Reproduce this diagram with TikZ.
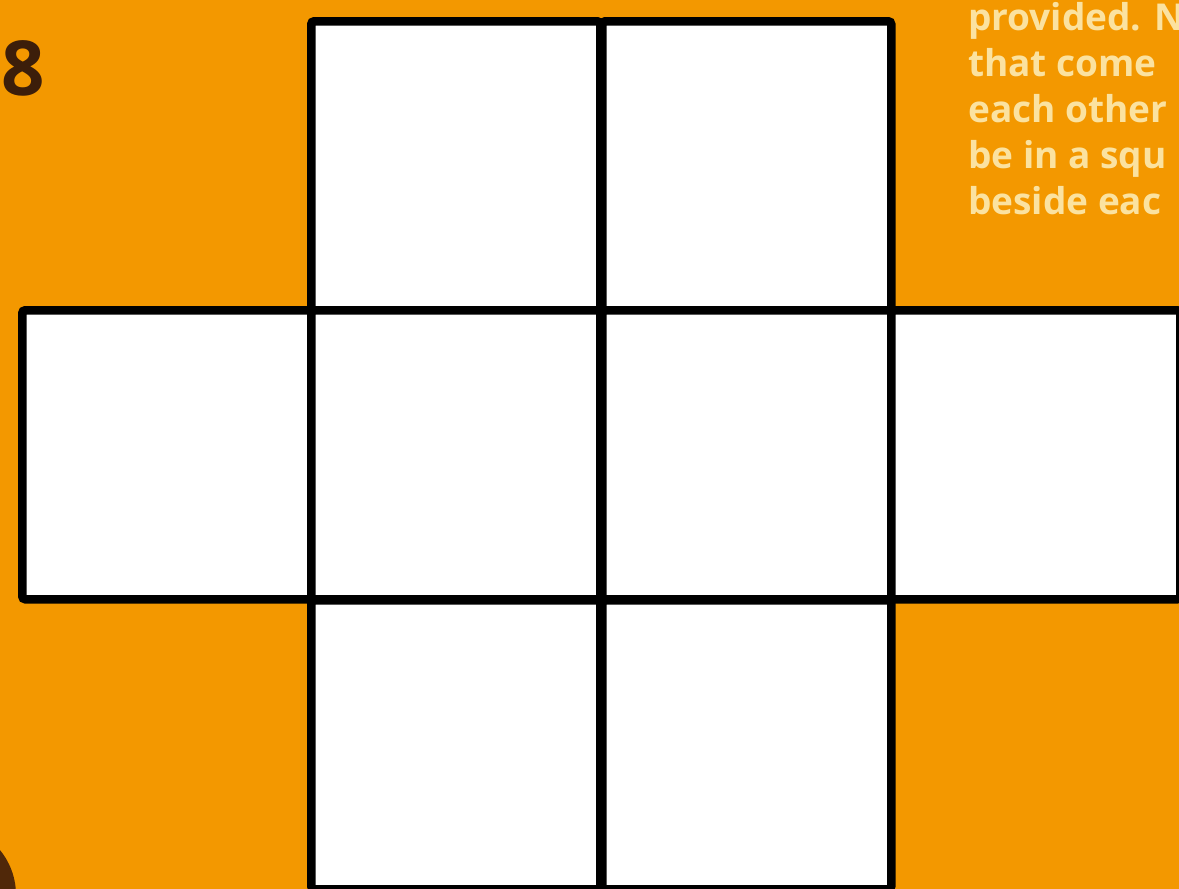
\documentclass[tikz,border=0pt]{standalone}
\usepackage{fontspec}
\setmainfont{Open Sans}
\definecolor{bgorange}{RGB}{243,152,0}
\definecolor{paletext}{RGB}{251,226,160}
\definecolor{darkbrown}{RGB}{60,30,10}
\begin{document}
\begin{tikzpicture}[x=1pt,y=-1pt,
  cell/.style={draw=black,fill=white,line width=8.5pt,rectangle,inner sep=0pt,
    minimum width=289pt,minimum height=289pt,rounded corners=3pt,anchor=north west},
  note/.style={text=paletext,font=\fontsize{37}{46}\bfseries\selectfont,anchor=base west,inner sep=0pt}]
\fill[bgorange] (0,0) rectangle (1179,889);
\useasboundingbox (0,0) rectangle (1179,889);
\clip (0,0) rectangle (1179,889);
% number
\node[text=darkbrown,font=\fontsize{76}{80}\bfseries\selectfont,anchor=base west,inner sep=0pt] (num) at (1,95) {8};
% dark circle at bottom left
\fill[darkbrown!90!orange] (-55,895) circle (71);
% instruction text (cut off at the right edge, as in the source)
\node[note] (t1) at (968,30) {provided. N};
\node[note] (t2) at (968,76) {that come};
\node[note] (t3) at (968,122) {each other};
\node[note] (t4) at (968,168) {be in a squ};
\node[note] (t5) at (968,214) {beside eac};
% cells
\node[cell] (c1) at (307,17) {};
\node[cell] (c2) at (598,17) {};
\node[cell] (c3) at (18,306) {};
\node[cell] (c4) at (307,306) {};
\node[cell] (c5) at (598,306) {};
\node[cell] (c6) at (887,306) {};
\node[cell] (c7) at (307,596) {};
\node[cell] (c8) at (598,596) {};
\end{tikzpicture}
\end{document}
